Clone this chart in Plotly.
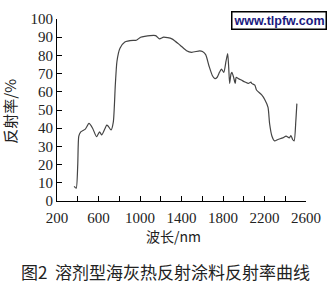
import plotly.graph_objects as go

wavelength_nm = [365, 385, 400, 410, 429, 473, 508, 543, 581, 610, 632, 680, 695, 721, 743,
                 762, 778, 807, 854, 933, 965, 1006, 1045, 1150, 1188, 1228, 1307, 1387, 1449,
                 1497, 1576, 1602, 1633, 1665, 1697, 1722, 1744, 1766, 1785, 1808, 1829, 1845,
                 1855, 1864, 1877, 1886, 1902, 1918, 1927, 1950, 1981, 2012, 2045, 2069, 2076,
                 2107, 2123, 2171, 2202, 2234, 2249, 2272, 2297, 2329, 2376, 2408, 2439, 2455,
                 2471, 2486, 2502, 2512]
reflectance = [8.0, 7.0, 20.0, 35.6, 38.0, 39.5, 42.6, 40.0, 35.3, 38.0, 36.3, 41.7, 41.0, 39.0, 43.5,
               63.7, 76.8, 83.9, 87.4, 88.3, 88.3, 90.0, 90.5, 90.9, 89.1, 90.0, 89.1, 85.6, 82.6,
               81.7, 82.5, 82.1, 80.4, 74.2, 69.0, 67.2, 68.0, 70.7, 72.5, 70.7, 76.8, 81.0,
               73.3, 64.6, 69.8, 70.7, 68.0, 64.6, 68.0, 67.2, 66.3, 65.4, 64.6, 65.4, 64.6,
               63.7, 61.0, 58.4, 55.8, 51.4, 42.6, 35.6, 33.0, 33.8, 34.7, 35.6, 34.7, 35.9,
               33.8, 33.0, 44.0, 53.5]

x_tick_vals = [200, 400, 600, 800, 1000, 1200, 1400, 1600, 1800, 2000, 2200, 2400, 2600]
x_tick_text = ["200", "", "600", "", "1000", "", "1400", "", "1800", "", "2200", "", "2600"]
y_tick_vals = [0, 10, 20, 30, 40, 50, 60, 70, 80, 90, 100]

x_title = "波长/nm"
y_title = "反射率/%"
caption = "图2  溶剂型海灰热反射涂料反射率曲线"
watermark = "www.tlpfw.com"

fig = go.Figure()
fig.add_trace(go.Scatter(x=wavelength_nm, y=reflectance, mode="lines",
                         line=dict(color="#444444", width=1.2, shape="spline", smoothing=0.6),
                         showlegend=False, hoverinfo="skip"))

L, R, T, B = 57, 22, 11, 84
W, H = 332, 285
pw, ph = W - L - R, H - T - B

serif = "Liberation Serif, Times New Roman, serif"
cjk = "Noto Sans CJK SC, sans-serif"

fig.update_layout(
    width=W, height=H,
    margin=dict(l=L, r=R, t=T, b=B, pad=0),
    plot_bgcolor="white", paper_bgcolor="white",
    xaxis=dict(range=[200, 2600], tickvals=x_tick_vals, ticktext=x_tick_text,
               ticks="inside", ticklen=5, tickcolor="black", tickwidth=1,
               ticklabelstandoff=3,
               showline=True, linecolor="black", linewidth=1, showgrid=False, zeroline=False,
               tickfont=dict(family=serif, size=15, color="#222")),
    yaxis=dict(range=[0, 100], tickvals=y_tick_vals,
               ticks="inside", ticklen=5, tickcolor="black", tickwidth=1,
               showline=True, linecolor="black", linewidth=1, showgrid=False, zeroline=False,
               tickfont=dict(family=serif, size=15, color="#222")),
    annotations=[
        dict(text=y_title, xref="paper", yref="paper", x=(9 - L) / pw, y=(201 - 107) / ph,
             showarrow=False, textangle=-90, xanchor="center", yanchor="middle",
             font=dict(family=cjk, size=15, color="#222")),
        dict(text=x_title, xref="paper", yref="paper", x=(175 - L) / pw, y=-(238 - 201) / ph,
             showarrow=False, xanchor="center", yanchor="middle",
             font=dict(family=cjk, size=14, color="#222")),
        dict(text=caption, xref="paper", yref="paper", x=(167 - L) / pw, y=-(275 - 201) / ph,
             showarrow=False, xanchor="center", yanchor="middle",
             font=dict(family=cjk, size=17, color="#222")),
        dict(text="<b>" + watermark + "</b>", xref="paper", yref="paper", x=(283 - L) / pw, y=(201 - 12.5) / ph,
             showarrow=False, xanchor="center", yanchor="middle",
             bordercolor="black", borderwidth=1.5, borderpad=1, bgcolor="white",
             font=dict(family="Liberation Sans, Arial, sans-serif", size=12.5, color="#1a1a80")),
    ],
)

fig.write_html("out.html")
